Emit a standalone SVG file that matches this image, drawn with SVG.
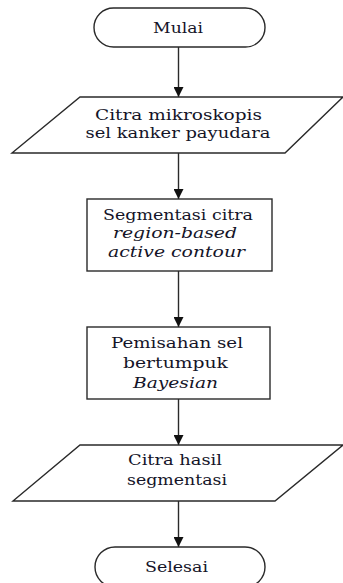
<svg xmlns="http://www.w3.org/2000/svg" width="343" height="583" viewBox="0 0 343 583">
<defs>
<style>
.shape{fill:#fff;stroke:#2a2a2a;stroke-width:1.4}
.conn{stroke:#2a2a2a;stroke-width:1.4;fill:none}
.t{font-size:15px;fill:#141428;text-anchor:middle}
.i{font-style:italic}
</style>
<marker id="ah" viewBox="0 0 10 10" refX="10" refY="5" markerWidth="10" markerHeight="10" markerUnits="userSpaceOnUse" orient="auto">
<path d="M0,0 L10,5 L0,10 Z" fill="#111"/>
</marker>
</defs>
<rect width="343" height="583" fill="#fff"/>
<g id="connectors">
<line class="conn" x1="178.5" y1="47" x2="178.5" y2="97" marker-end="url(#ah)"/>
<line class="conn" x1="178.5" y1="153" x2="178.5" y2="199" marker-end="url(#ah)"/>
<line class="conn" x1="178.5" y1="271" x2="178.5" y2="327" marker-end="url(#ah)"/>
<line class="conn" x1="178.5" y1="399" x2="178.5" y2="445" marker-end="url(#ah)"/>
<line class="conn" x1="178.5" y1="501" x2="178.5" y2="547" marker-end="url(#ah)"/>
</g>
<g font-family="DejaVu Serif, serif">
<g id="mulai">
<rect class="shape" x="94" y="8" width="171" height="39" rx="19.5"/>
<text class="t" x="178" y="33" textLength="50" lengthAdjust="spacingAndGlyphs">Mulai</text>
</g>
<g id="input">
<polygon class="shape" points="80,97 343,97 285,153 12,153"/>
<text class="t" x="178.5" y="120" textLength="167" lengthAdjust="spacingAndGlyphs">Citra mikroskopis</text>
<text class="t" x="178" y="137.5" textLength="185" lengthAdjust="spacingAndGlyphs">sel kanker payudara</text>
</g>
<g id="segmentasi">
<rect class="shape" x="87" y="199" width="185" height="72"/>
<text class="t" x="178" y="220" textLength="150" lengthAdjust="spacingAndGlyphs">Segmentasi citra</text>
<text class="t i" x="175" y="238" textLength="124" lengthAdjust="spacingAndGlyphs">region-based</text>
<text class="t i" x="176.5" y="257" textLength="137" lengthAdjust="spacingAndGlyphs">active contour</text>
</g>
<g id="pemisahan">
<rect class="shape" x="87" y="327" width="183" height="72"/>
<text class="t" x="177" y="348" textLength="132" lengthAdjust="spacingAndGlyphs">Pemisahan sel</text>
<text class="t" x="175.5" y="368" textLength="105" lengthAdjust="spacingAndGlyphs">bertumpuk</text>
<text class="t i" x="175.5" y="388" textLength="85" lengthAdjust="spacingAndGlyphs">Bayesian</text>
</g>
<g id="output">
<polygon class="shape" points="80,445 343,445 275,501 13,501"/>
<text class="t" x="175" y="465" textLength="94" lengthAdjust="spacingAndGlyphs">Citra hasil</text>
<text class="t" x="177" y="485" textLength="100" lengthAdjust="spacingAndGlyphs">segmentasi</text>
</g>
<g id="selesai">
<rect class="shape" x="95" y="547" width="170" height="40" rx="20"/>
<text class="t" x="176.5" y="572" textLength="63" lengthAdjust="spacingAndGlyphs">Selesai</text>
</g>
</g>
</svg>
